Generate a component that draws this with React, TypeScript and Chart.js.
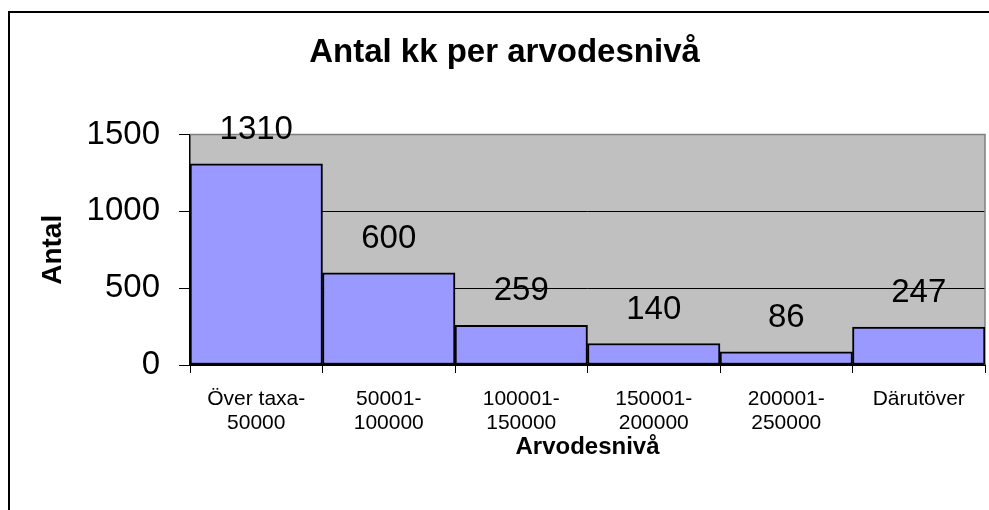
import React, { useEffect, useRef } from "react";
import { Chart, registerables } from "chart.js";

Chart.register(...registerables);

const chartTitle = "Antal kk per arvodesnivå";
const xTitle = "Arvodesnivå";
const yTitle = "Antal";
const categories: (string | string[])[] = [
  ["Över taxa-", "50000"],
  ["50001-", "100000"],
  ["100001-", "150000"],
  ["150001-", "200000"],
  ["200001-", "250000"],
  "Därutöver",
];
const values = [1310, 600, 259, 140, 86, 247];
const yMin = 0;
const yMax = 1500;
const yStep = 500;

const FONT = "'Liberation Sans', Arial, Helvetica, sans-serif";

const decorPlugin = {
  id: "decor",
  beforeDraw(chart: any) {
    const { ctx, chartArea } = chart;
    ctx.save();
    ctx.fillStyle = "#ffffff";
    ctx.fillRect(0, 0, chart.width, chart.height);
    // outer frame (left and top visible)
    ctx.strokeStyle = "#000";
    ctx.lineWidth = 2;
    ctx.beginPath();
    ctx.moveTo(9, chart.height + 5);
    ctx.lineTo(9, 12);
    ctx.lineTo(chart.width + 5, 12);
    ctx.stroke();
    // plot area
    ctx.fillStyle = "#C0C0C0";
    ctx.fillRect(chartArea.left, chartArea.top, chartArea.right - chartArea.left, chartArea.bottom - chartArea.top);
    ctx.restore();
  },
  beforeDatasetsDraw(chart: any) {
    const { ctx, chartArea } = chart;
    ctx.save();
    ctx.strokeStyle = "#808080";
    ctx.lineWidth = 1.5;
    ctx.beginPath();
    ctx.moveTo(chartArea.left, chartArea.top);
    ctx.lineTo(chartArea.right, chartArea.top);
    ctx.lineTo(chartArea.right, chartArea.bottom);
    ctx.stroke();
    ctx.restore();
  },
  afterDatasetsDraw(chart: any) {
    const { ctx } = chart;
    const meta = chart.getDatasetMeta(0);
    ctx.save();
    ctx.fillStyle = "#000";
    ctx.font = `33px ${FONT}`;
    ctx.textAlign = "center";
    ctx.textBaseline = "middle";
    meta.data.forEach((bar: any, i: number) => {
      ctx.fillText(String(values[i]), bar.x, bar.y - 34);
    });
    ctx.restore();
  },
};

export default function App() {
  const ref = useRef<HTMLCanvasElement | null>(null);
  useEffect(() => {
    if (!ref.current) return;
    const chart = new Chart(ref.current, {
      type: "bar",
      data: {
        labels: categories,
        datasets: [
          {
            data: values,
            backgroundColor: "#9999FF",
            borderColor: "#000",
            borderWidth: 2,
            borderSkipped: false,
            categoryPercentage: 1,
            barPercentage: 1,
          },
        ],
      },
      options: {
        animation: false,
        responsive: false,
        maintainAspectRatio: false,
        layout: { padding: { left: 24, right: 4, top: 0, bottom: 0 } },
        plugins: {
          legend: { display: false },
          tooltip: { enabled: false },
          title: {
            display: true,
            text: chartTitle,
            color: "#000",
            font: { family: FONT, size: 33, weight: "bold", lineHeight: 1.2 },
            padding: { top: 33, bottom: 62 },
          },
        },
        scales: {
          x: {
            afterFit(scale: any) {
              scale.height = 145;
            },
            grid: {
              display: true,
              drawOnChartArea: false,
              tickLength: 8,
              tickColor: "#000",
              offset: true,
            },
            border: { display: true, color: "#000", width: 2 },
            ticks: {
              color: "#000",
              font: { family: FONT, size: 21, lineHeight: 1.15 },
              padding: 14,
              maxRotation: 0,
              autoSkip: false,
            },
            title: {
              display: true,
              text: xTitle,
              color: "#000",
              font: { family: FONT, size: 24, weight: "bold", lineHeight: 1.2 },
              padding: { top: 0, bottom: 48 },
            },
          },
          y: {
            min: yMin,
            max: yMax,
            afterFit(scale: any) {
              scale.width = 166;
            },
            grid: {
              color: (c: any) => (c.tick && c.tick.value === yMax ? "rgba(0,0,0,0)" : "#000"),
              lineWidth: 1,
              tickLength: 11,
              tickColor: "#000",
            },
            border: { display: true, color: "#000", width: 1.5 },
            ticks: {
              stepSize: yStep,
              color: "#000",
              font: { family: FONT, size: 33 },
              padding: 19,
              callback: (v: any) => String(v),
            },
            title: {
              display: true,
              text: yTitle,
              color: "#000",
              font: { family: FONT, size: 28, weight: "bold", lineHeight: 1.2 },
              padding: { top: 12, bottom: 0 },
            },
          },
        },
      },
      plugins: [decorPlugin],
    });
    return () => chart.destroy();
  }, []);
  return (
    <canvas
      ref={ref}
      width={989}
      height={510}
      style={{ position: "fixed", left: 0, top: 0, width: 989, height: 510 }}
    />
  );
}
